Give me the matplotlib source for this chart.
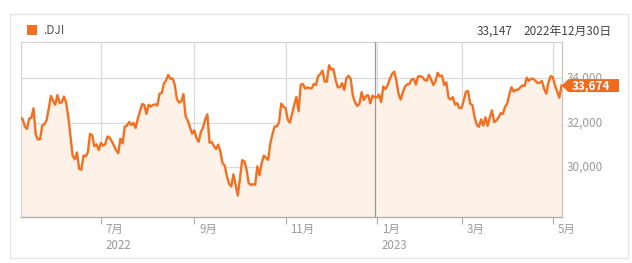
import matplotlib
matplotlib.use("Agg")
import matplotlib.pyplot as plt
from matplotlib.patches import Rectangle, Polygon
from matplotlib.transforms import IdentityTransform
import numpy as np
import pandas as pd

plt.rcParams['font.family'] = ['Noto Sans CJK JP', 'DejaVu Sans']

# ---- data ----
holidays = ['2022-05-30', '2022-06-20', '2022-07-04', '2022-09-05', '2022-11-24',
            '2022-12-26', '2023-01-02', '2023-01-16', '2023-02-20', '2023-04-07']
dates = [d for d in pd.bdate_range('2022-05-09', '2023-05-05')
         if d.strftime('%Y-%m-%d') not in holidays]

values = [
    # May 2022
    32246, 32160, 31834, 31730, 32196, 32223, 32654, 31490, 31253, 31262,
    31880, 31928, 32120, 32637, 33213, 32990,
    # Jun
    32813, 33248, 32899, 32915, 33180, 32910, 32272, 31393, 30516, 30364,
    30668, 29927, 29888, 30530, 30483, 30677, 31500, 31438, 30946, 31029, 30775,
    # Jul
    31097, 30967, 31037, 31384, 31338, 31173, 30981, 30772, 30630, 31288,
    31072, 31827, 31875, 32036, 31899, 31990, 31762, 32198, 32529, 32845,
    # Aug
    32798, 32397, 32813, 32727, 32803, 32833, 32775, 33309, 33336, 33761,
    33913, 34152, 33981, 33999, 33706, 33064, 32910, 32969, 33291, 32283,
    32099, 31791, 31510,
    # Sep
    31656, 31318, 31145, 31581, 31775, 32152, 32381, 31105, 31135, 30962,
    30822, 31020, 30706, 30184, 30077, 29590, 29260, 29135, 29684, 29226, 28726,
    # Oct
    29491, 30317, 30274, 29927, 29297, 29203, 29240, 29211, 30039, 29635,
    30186, 30524, 30424, 30334, 31083, 31500, 31837, 31840, 32034, 32861, 32733,
    # Nov
    32654, 32148, 32002, 32403, 32827, 33161, 32514, 33716, 33748, 33537,
    33593, 33554, 33547, 33746, 33700, 34098, 34195, 34347, 33850, 33853, 34590,
    # Dec
    34395, 34430, 33947, 33597, 33598, 33781, 33476, 34006, 34109, 33966,
    33203, 32921, 32758, 32850, 33377, 33027, 33204, 33242, 32876, 33221, 33147,
    # Jan 2023
    33136, 33270, 32930, 33631, 33518, 33705, 33974, 34190, 34303, 33911,
    33297, 33045, 33375, 33630, 33734, 33744, 33950, 33978, 33717, 34086,
    # Feb
    34093, 34054, 33926, 33891, 34156, 33949, 33699, 33869, 34246, 34089,
    34128, 33697, 33827, 33130, 33046, 33154, 32817, 32889, 32657,
    # Mar
    32662, 33004, 33391, 33432, 32856, 32798, 32255, 31910, 31820, 32155,
    31875, 32247, 31862, 32245, 32560, 32030, 32105, 32238, 32433, 32394,
    32718, 32860, 33274,
    # Apr
    33601, 33403, 33483, 33486, 33587, 33685, 33647, 34030, 33887, 33987,
    33977, 33897, 33787, 33809, 33876, 33531, 33302, 33827, 34098,
    # May
    34051, 33684, 33414, 33128, 33674,
]

month_ticks = ['2022-07-01', '2022-09-01', '2022-11-01', '2023-01-03', '2023-03-01', '2023-05-01']
month_labels = ['7月\n2022', '9月', '11月', '1月\n2023', '3月', '5月']
y_ticks = [30000, 32000, 34000]
y_labels = ['30,000', '32,000', '34,000']
series_name = '.DJI'
hover_date = '2022-12-30'
hover_label = '2022年12月30日'

# ---- figure ----
W, H = 632, 263
fig = plt.figure(figsize=(W / 100, H / 100), dpi=100)
L, R, T, B = 20.5, 561.5, 42.3, 217.3
ax = fig.add_axes([L / W, 1 - B / H, (R - L) / W, (B - T) / H])

x = np.arange(len(values))
date_str = [d.strftime('%Y-%m-%d') for d in dates]
tick_idx = [date_str.index(m) for m in month_ticks]
hover_idx = date_str.index(hover_date)

ymin, ymax = 27750, 35620
ax.set_xlim(0, len(values) - 1)
ax.set_ylim(ymin, ymax)

line_c = '#f37021'
ax.fill_between(x, values, ymin, color='#fdf1e8', lw=0, zorder=1)
for t in tick_idx:
    ax.axvline(t, color='#dadada', lw=0.9, zorder=0.5)
for yt in y_ticks:
    ax.axhline(yt, color='#dadada', lw=0.9, zorder=0.5)
ax.plot(x, values, color=line_c, lw=1.7, zorder=3, solid_joinstyle='round')
ax.axvline(hover_idx, color='#9a9a9a', lw=0.9, zorder=2.8)

for s in ['left', 'top', 'right']:
    ax.spines[s].set_color('#d5d5d5')
    ax.spines[s].set_linewidth(0.9)
ax.spines['right'].set_color('#c4c4c4')
ax.spines['bottom'].set_color('#b0b0b0')
ax.spines['bottom'].set_linewidth(1.0)

ax.set_xticks(tick_idx)
ax.set_xticklabels([])
ax.tick_params(axis='x', length=5, color='#b0b0b0', width=0.9)
ax.set_yticks([])

# x labels
for t, lab in zip(tick_idx, month_labels):
    ax.text(t + 2.2, -0.035, lab, transform=ax.get_xaxis_transform(), ha='left', va='top',
            fontsize=8.3, color='#9a9a9a', linespacing=1.25, clip_on=False)

# y labels (right)
for yt, lab in zip(y_ticks, y_labels):
    ax.text(1.01, yt, lab, transform=ax.get_yaxis_transform(), ha='left', va='center',
            fontsize=8.5, color='#9a9a9a', clip_on=False, zorder=2)

# outer frame (display coords, origin bottom-left)
fig.patches.append(Rectangle((10, H - 258), 618, 244, transform=IdentityTransform(),
                             fill=False, edgecolor='#e6e6e6', lw=1.0))

# legend
fig.patches.append(Rectangle((27.3, H - 35.3), 10, 10, transform=IdentityTransform(),
                             facecolor=line_c, edgecolor='none'))
fig.text(43 / W, 1 - 31 / H, series_name, ha='left', va='center', fontsize=8.5, color='#555555')

# hover readout
fig.text(512.5 / W, 1 - 31 / H, f'{values[hover_idx]:,}', ha='right', va='center',
         fontsize=8.5, color='#444444')
fig.text(523 / W, 1 - 31 / H, hover_label, ha='left', va='center', fontsize=8.5, color='#444444')

# last value label with arrow
fig.canvas.draw()
px, py = ax.transData.transform((len(values) - 1, values[-1]))
hh = 6.5
poly = Polygon([(px, py), (px + 7, py + hh), (619, py + hh), (619, py - hh), (px + 7, py - hh)],
               closed=True, transform=IdentityTransform(), facecolor='#f06b1e', edgecolor='none')
fig.patches.append(poly)
fig.text(591 / W, py / H, f'{values[-1]:,}', ha='center', va='center', fontsize=8.5,
         color='white', fontweight='bold', zorder=10)

fig.savefig('out.png', dpi=100)
